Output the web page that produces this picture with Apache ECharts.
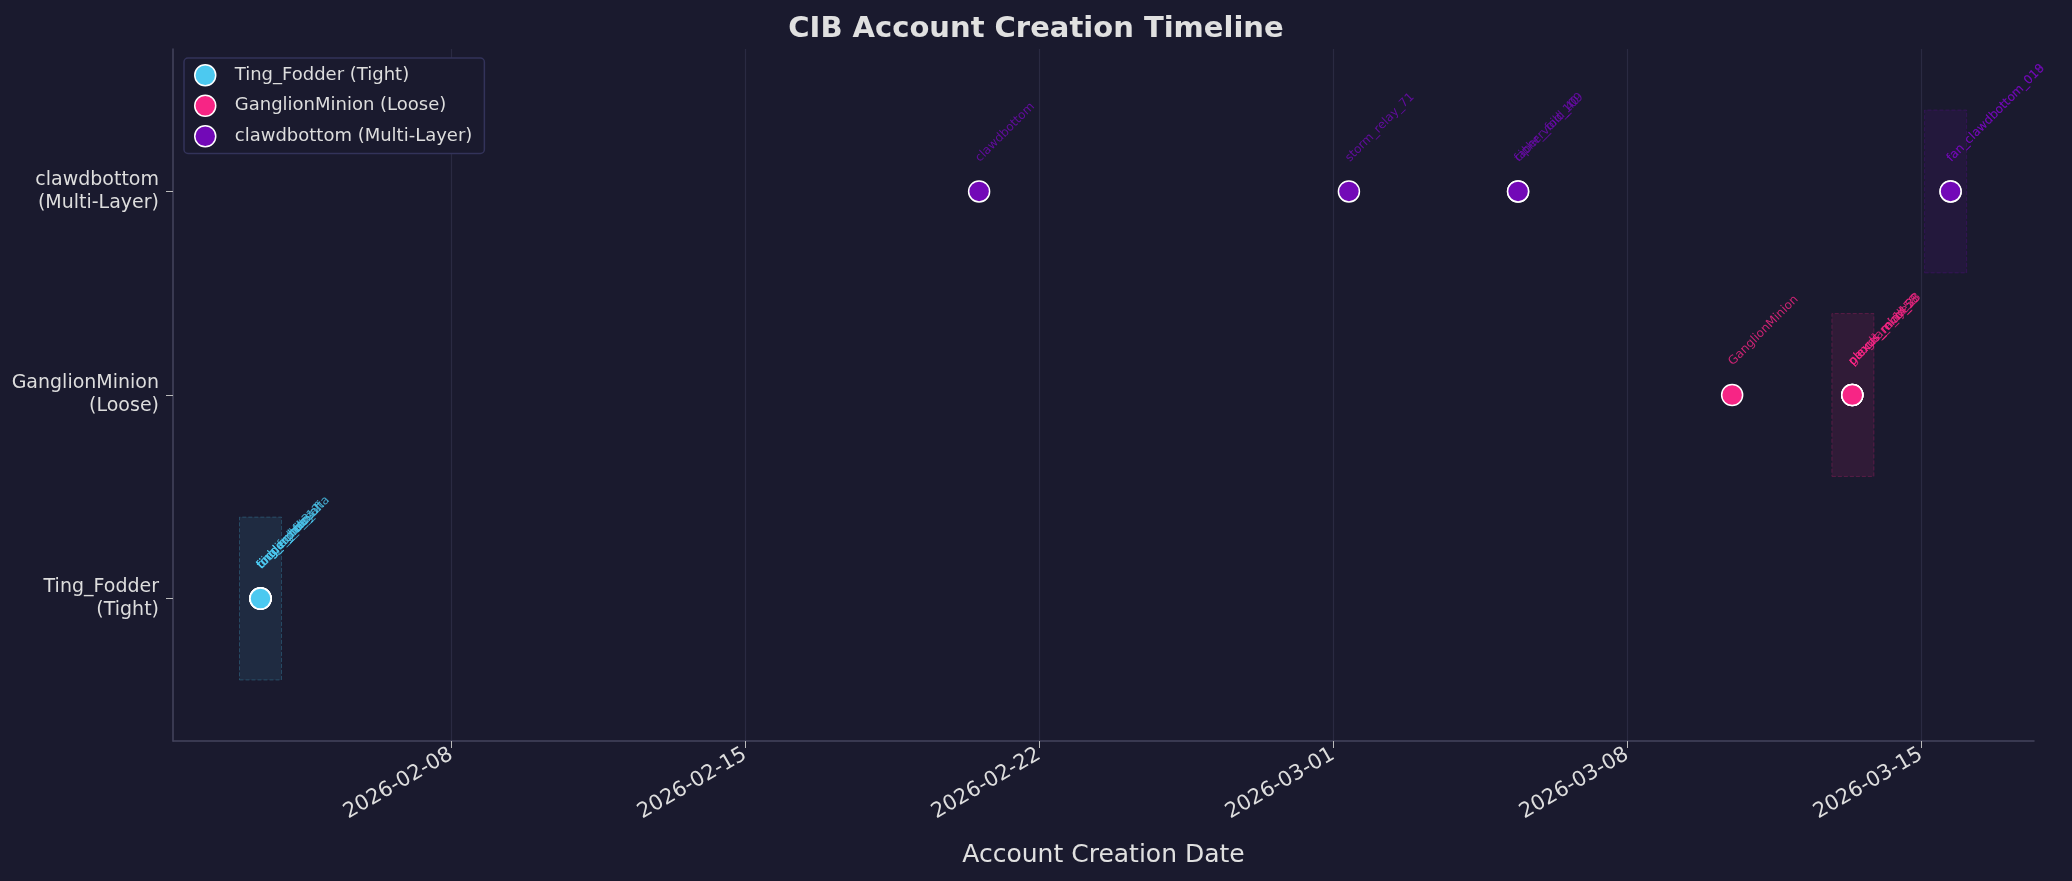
<!DOCTYPE html>
<html><head><meta charset="utf-8">
<script src="https://cdn.jsdelivr.net/npm/echarts@6/dist/echarts.min.js"></script>
<style>html,body{margin:0;background:#1a1a2e}#c{width:2072px;height:881px}</style>
</head><body><div id="c"></div>
<script>
const categories = ['Ting_Fodder\n(Tight)', 'GanglionMinion\n(Loose)', 'clawdbottom\n(Multi-Layer)'];
const seriesNames = ['Ting_Fodder (Tight)', 'GanglionMinion (Loose)', 'clawdbottom (Multi-Layer)'];
const colors = ['#4cc9f0', '#f72585', '#7209b7'];
const tickDates = ['2026-02-08', '2026-02-15', '2026-02-22', '2026-03-01', '2026-03-08', '2026-03-15'];
// [date, account name]
const tingAccounts = [
  ['2026-02-03T11:00', 'ting_fodder_alt'], ['2026-02-03T11:00', 'fodder_bot_12'], ['2026-02-03T11:00', 'tingling_fan'],
  ['2026-02-03T11:00', 'fodder_relay'], ['2026-02-03T11:00', 'ting_echo_3'], ['2026-02-03T11:00', 'bingo_philosofia']
];
const ganglionAccounts = [
  ['2026-03-10T12:00', 'GanglionMinion'],
  ['2026-03-13T08:40', 'neural_relay_58'], ['2026-03-13T08:40', 'ganglia_node'], ['2026-03-13T08:40', 'plexus_m_1458'],
  ['2026-03-13T08:40', 'plexus_mind_23']
];
const clawAccounts = [
  ['2026-02-20T13:40', 'clawdbottom'], ['2026-03-01T09:00', 'storm_relay_71'],
  ['2026-03-05T09:40', 'faber_void_109'], ['2026-03-05T09:40', 'cipher_fold_40'],
  ['2026-03-15T16:50', 'fan_clawdbottom_018'], ['2026-03-15T16:50', 'fan_clawdbottom_019']
];
const clusterWindows = [
  [0, '2026-02-02T23:00', '2026-02-03T23:00'],
  [1, '2026-03-12T21:00', '2026-03-13T21:00'],
  [2, '2026-03-15T02:00', '2026-03-16T02:00']
];
const groups = [tingAccounts, ganglionAccounts, clawAccounts];
const ms = s => Date.parse(s + (s.length === 10 ? 'T00:00' : ''));
const pad = n => String(n).padStart(2, '0');
const fmtDate = v => { const d = new Date(v); return d.getFullYear() + '-' + pad(d.getMonth() + 1) + '-' + pad(d.getDate()); };

const series = groups.map((g, i) => ({
  name: seriesNames[i], type: 'scatter', symbolSize: 21,
  itemStyle: { color: colors[i], borderColor: '#ffffff', borderWidth: 1.5, opacity: 1 },
  emphasis: { disabled: true },
  data: g.map(a => ({ value: [ms(a[0]), i], name: a[1] })),
  label: { show: true, formatter: p => p.name, rotate: 45, position: [14, -16],
    align: 'left', verticalAlign: 'bottom', fontSize: 12, color: colors[i] + 'cc', fontFamily: 'DejaVu Sans' },
  markArea: { silent: true,
    itemStyle: { color: colors[i] + '1a', borderColor: colors[i] + '40', borderWidth: 1, borderType: 'dashed' },
    data: clusterWindows.filter(w => w[0] === i).map(w => [{ xAxis: ms(w[1]), yAxis: i - 0.4 }, { xAxis: ms(w[2]), yAxis: i + 0.4 }]) },
  z: 3
}));

const ticks = tickDates.map(ms);
const chart = echarts.init(document.getElementById('c'));
chart.setOption({
  backgroundColor: '#1a1a2e',
  animation: false,
  textStyle: { fontFamily: 'DejaVu Sans' },
  title: { text: 'CIB Account Creation Timeline', left: 'center', top: 10,
    textStyle: { color: '#e0e0e0', fontSize: 29, fontWeight: 'bold' } },
  legend: { left: 184, top: 58, orient: 'vertical', itemGap: 8, itemWidth: 21, itemHeight: 21,
    backgroundColor: '#1a1a2e', borderColor: '#33335a', borderWidth: 1.5, borderRadius: 4, padding: [6, 12, 6, 10],
    textStyle: { color: '#dddddd', fontSize: 18, padding: [0, 0, 0, 14] },
    data: seriesNames.map((n, i) => ({ name: n, icon: 'circle',
      itemStyle: { color: colors[i], borderColor: '#fff', borderWidth: 1.5 } })) },
  grid: { left: 173, right: 38, top: 49, bottom: 140 },
  xAxis: { type: 'value', min: ms('2026-02-01T09:00'), max: ms('2026-03-17T16:30'),
    name: 'Account Creation Date', nameLocation: 'middle', nameGap: 102,
    nameTextStyle: { color: '#e0e0e0', fontSize: 25 },
    axisLine: { onZero: false, lineStyle: { color: '#44445e', width: 1.5 } },
    axisTick: { show: true, customValues: ticks, length: 7, lineStyle: { color: '#bbbbbb' } },
    axisLabel: { customValues: ticks, rotate: 30, color: '#dddddd', fontSize: 21, formatter: fmtDate, margin: 12 },
    splitLine: { show: true, lineStyle: { color: '#2a2a42', width: 1.2 } } },
  yAxis: { type: 'value', min: -0.7, max: 2.7,
    axisLabel: { customValues: [0, 1, 2], formatter: v => categories[Math.round(v)] || '', color: '#dddddd', fontSize: 19, align: 'right', lineHeight: 23, margin: 14 },
    axisTick: { show: true, customValues: [0, 1, 2], length: 7, lineStyle: { color: '#bbbbbb' } },
    axisLine: { show: true, onZero: false, lineStyle: { color: '#44445e', width: 1.5 } },
    splitLine: { show: false } },
  series
});
</script></body></html>
